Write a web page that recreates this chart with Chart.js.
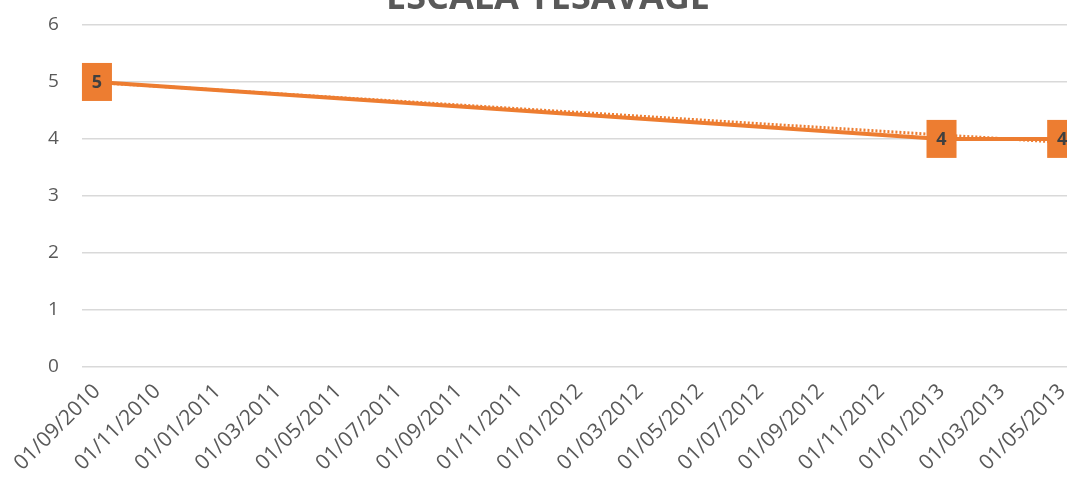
<!DOCTYPE html>
<html>
<head>
<meta charset="utf-8">
<script src="https://cdn.jsdelivr.net/npm/chart.js@4/dist/chart.umd.min.js"></script>
<style>
  html, body { margin: 0; padding: 0; background: #fff; }
  #wrap { width: 1067px; height: 483px; }
</style>
</head>
<body>
<div id="wrap"><canvas id="myChart"></canvas></div>
<script>
// x labels, one every 2 months
var dateLabels = ['01/09/2010', '01/11/2010', '01/01/2011', '01/03/2011', '01/05/2011', '01/07/2011',
    '01/09/2011', '01/11/2011', '01/01/2012', '01/03/2012', '01/05/2012', '01/07/2012',
    '01/09/2012', '01/11/2012', '01/01/2013', '01/03/2013', '01/05/2013'];
var yTicks = [0, 1, 2, 3, 4, 5, 6];

var scoreDates = ['01/09/2010', '01/01/2013', '01/05/2013'];
var scores = [5, 4, 4];
var trend = [4.99, 4.07, 3.94];

var orange = '#ED7D31';
var fontFam = '"Open Sans", "Liberation Sans", sans-serif';

function toPoints(vals) {
    var pts = [];
    for (var i = 0; i < scoreDates.length; i++) {
        pts.push({ x: dateLabels.indexOf(scoreDates[i]), y: vals[i] });
    }
    return pts;
}

var topTitle = {
    id: 'topTitle',
    afterDraw: function(chart) {
        var c = chart.ctx;
        c.save();
        c.font = 'bold 36px ' + fontFam;
        c.fillStyle = '#595959';
        c.textAlign = 'center';
        c.textBaseline = 'alphabetic';
        c.fillText('ESCALA YESAVAGE', 548, 9);
        c.restore();
    }
};

var boxLabels = {
    id: 'boxLabels',
    afterDatasetsDraw: function(chart) {
        var c = chart.ctx;
        var meta = chart.getDatasetMeta(1);
        c.save();
        c.font = 'bold 18px ' + fontFam;
        c.textAlign = 'center';
        c.textBaseline = 'middle';
        meta.data.forEach(function(el, i) {
            c.fillStyle = orange;
            c.fillRect(el.x - 15, el.y - 19, 30, 38);
            c.fillStyle = '#404040';
            c.fillText(String(scores[i]), el.x, el.y + 1);
        });
        c.restore();
    }
};

var ctx = document.getElementById('myChart').getContext('2d');
var myChart = new Chart(ctx, {
    type: 'line',
    data: {
        datasets: [{
            label: 'Tendencia',
            data: toPoints(trend),
            borderColor: orange,
            borderWidth: 3,
            borderDash: [2, 2],
            pointRadius: 0,
            fill: false
        },
        {
            label: 'Yesavage',
            data: toPoints(scores),
            borderColor: orange,
            backgroundColor: orange,
            borderWidth: 4,
            pointRadius: 0,
            fill: false
        }]
    },
    options: {
        responsive: true,
        maintainAspectRatio: false,
        animation: false,
        layout: { padding: { left: 45, top: 25, right: 0, bottom: 14 } },
        plugins: {
            legend: { display: false },
            tooltip: { enabled: false }
        },
        scales: {
            x: {
                type: 'linear',
                min: -0.25,
                max: 16.08,
                grid: { display: true, drawOnChartArea: false, drawTicks: true, tickLength: 19, tickColor: 'rgba(0,0,0,0)', color: 'rgba(0,0,0,0)' },
                border: { display: false },
                ticks: {
                    stepSize: 1,
                    includeBounds: false,
                    autoSkip: false,
                    minRotation: 45,
                    maxRotation: 45,
                    padding: 0,
                    color: '#595959',
                    font: { size: 21, family: fontFam, lineHeight: 0.3 },
                    callback: function(v) { return dateLabels[v] || ''; }
                }
            },
            y: {
                min: yTicks[0],
                max: yTicks[yTicks.length - 1],
                grid: { color: '#d9d9d9', lineWidth: 1.5, drawTicks: true, tickLength: 20, tickColor: 'rgba(0,0,0,0)' },
                border: { display: false },
                ticks: {
                    stepSize: 1,
                    padding: 3,
                    color: '#595959',
                    font: { size: 19, family: fontFam }
                }
            }
        }
    },
    plugins: [topTitle, boxLabels]
});
</script>
</body>
</html>
